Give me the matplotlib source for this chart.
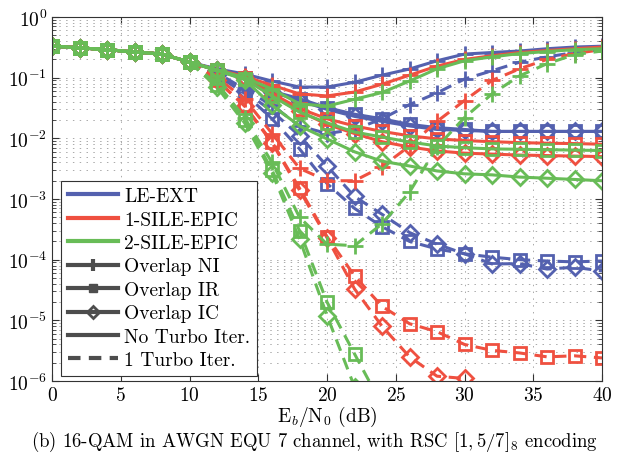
import numpy as np
import matplotlib
matplotlib.use('Agg')
import matplotlib.pyplot as plt
from matplotlib.lines import Line2D
from matplotlib.ticker import FixedLocator

plt.rcParams['font.family'] = 'serif'
plt.rcParams['font.serif'] = ['cmr10']
plt.rcParams['mathtext.fontset'] = 'cm'
plt.rcParams['axes.formatter.use_mathtext'] = True

ebn0 = np.arange(0, 41, 2)

# shared low-SNR part (0..10 dB)
head = [0.333, 0.31, 0.29, 0.265, 0.245, 0.18]
nan = np.nan

# no turbo iteration (solid)
le_ni_0 = head + [0.14, 0.115, 0.088, 0.07, 0.07, 0.084, 0.11, 0.139, 0.19, 0.245, 0.26, 0.275, 0.30, 0.32, 0.33]
le_ir_0 = head + [0.135, 0.1, 0.06, 0.045, 0.032, 0.025, 0.021, 0.017, 0.015, 0.014, 0.013, 0.013, 0.013, 0.013, 0.013]
le_ic_0 = head + [0.135, 0.1, 0.058, 0.042, 0.03, 0.023, 0.019, 0.016, 0.014, 0.0135, 0.013, 0.013, 0.013, 0.013, 0.013]
s1_ni_0 = head + [0.135, 0.105, 0.075, 0.054, 0.05, 0.058, 0.078, 0.11, 0.155, 0.2, 0.23, 0.26, 0.28, 0.3, 0.32]
s1_ir_0 = head + [0.133, 0.098, 0.055, 0.031, 0.021, 0.016, 0.013, 0.011, 0.0098, 0.0092, 0.0088, 0.0085, 0.0083, 0.0082, 0.008]
s1_ic_0 = head + [0.133, 0.097, 0.05, 0.028, 0.017, 0.012, 0.0088, 0.0072, 0.0062, 0.0057, 0.0055, 0.0053, 0.0052, 0.0051, 0.005]
s2_ni_0 = head + [0.135, 0.1, 0.065, 0.037, 0.034, 0.044, 0.057, 0.088, 0.14, 0.19, 0.22, 0.25, 0.27, 0.29, 0.30]
s2_ir_0 = head + [0.132, 0.095, 0.05, 0.027, 0.018, 0.0127, 0.0105, 0.0087, 0.0075, 0.007, 0.0067, 0.0066, 0.0065, 0.0064, 0.0063]
s2_ic_0 = head + [0.132, 0.093, 0.035, 0.016, 0.0098, 0.006, 0.0042, 0.0035, 0.0029, 0.0026, 0.0025, 0.0023, 0.0022, 0.0021, 0.002]

# one turbo iteration (dashed)
le_ni_1 = head + [0.12, 0.065, 0.035, 0.016, 0.012, 0.014, 0.021, 0.036, 0.056, 0.095, 0.13, 0.18, 0.22, 0.26, 0.29]
le_ir_1 = head + [0.11, 0.055, 0.021, 0.0067, 0.0018, 0.0007, 3.5e-4, 2.0e-4, 1.5e-4, 1.25e-4, 1.1e-4, 1.0e-4, 9.5e-5, 9.2e-5, 9.5e-5]
le_ic_1 = head + [0.11, 0.06, 0.028, 0.011, 0.0035, 0.0011, 5.6e-4, 2.8e-4, 1.8e-4, 1.25e-4, 8.5e-5, 8.6e-5, 7.0e-5, 7.5e-5, 6.5e-5]
s1_ni_1 = head + [0.1, 0.045, 0.012, 0.0032, 0.002, 0.002, 0.0034, 0.0075, 0.019, 0.042, 0.09, 0.14, 0.2, 0.25, 0.29]
s1_ir_1 = head + [0.09, 0.035, 0.0087, 0.0015, 2.4e-4, 5.4e-5, 1.7e-5, 8.8e-6, 6.5e-6, 4e-6, 3.2e-6, 2.9e-6, 2.5e-6, 2.6e-6, 2.4e-6]
s1_ic_1 = head + [0.09, 0.034, 0.0085, 0.0014, 2.3e-4, 3.3e-5, 8e-6, 2.5e-6, 1.2e-6, 1.1e-6, nan, nan, nan, nan, nan]
s2_ni_1 = head + [0.08, 0.022, 0.004, 0.0005, 1.8e-4, 1.7e-4, 3.9e-4, 0.0013, 0.0072, 0.022, 0.054, 0.107, 0.17, 0.24, 0.275]
s2_ir_1 = head + [0.075, 0.02, 0.003, 0.0003, 2e-5, 2.8e-6, 4e-7, nan, nan, nan, nan, nan, nan, nan, nan]
s2_ic_1 = head + [0.07, 0.018, 0.0027, 0.00022, 1.2e-5, 8e-7, nan, nan, nan, nan, nan, nan, nan, nan, nan]

blue = '#5461AF'
red = '#EF5040'
green = '#68BC57'
gray = '#4D4D4D'

curves = [
    (le_ni_0, blue, '+', '-'), (le_ir_0, blue, 's', '-'), (le_ic_0, blue, 'D', '-'),
    (le_ni_1, blue, '+', '--'), (le_ir_1, blue, 's', '--'), (le_ic_1, blue, 'D', '--'),
    (s1_ni_0, red, '+', '-'), (s1_ir_0, red, 's', '-'), (s1_ic_0, red, 'D', '-'),
    (s1_ni_1, red, '+', '--'), (s1_ir_1, red, 's', '--'), (s1_ic_1, red, 'D', '--'),
    (s2_ni_0, green, '+', '-'), (s2_ir_0, green, 's', '-'), (s2_ic_0, green, 'D', '-'),
    (s2_ni_1, green, '+', '--'), (s2_ir_1, green, 's', '--'), (s2_ic_1, green, 'D', '--'),
]
msize = {'+': 12, 's': 9, 'D': 8}

fig = plt.figure(figsize=(6.29, 4.56), dpi=100)
ax = fig.add_axes([0.0827, 0.1623, 0.8744, 0.7982])

for y, c, m, ls in curves:
    ax.semilogy(ebn0, y, color=c, marker=m, linestyle=ls, linewidth=2.2,
                markersize=msize[m], markeredgewidth=2, markerfacecolor='none',
                dashes=(4, 2.5) if ls == '--' else (None, None))

ax.set_xlim(0, 40)
ax.set_ylim(1e-6, 1)
ax.set_xticks(np.arange(0, 41, 5))
# keep tick locations inside the visible decades only
decades = np.arange(-6, 1)
ax.yaxis.set_major_locator(FixedLocator(10.0 ** decades))
minor = [k * 10.0 ** d for d in decades[:-1] for k in range(2, 10)]
ax.yaxis.set_minor_locator(FixedLocator(minor))
ax.grid(True, which='major', axis='x', color='#aaaaaa', linestyle=(0, (1.5, 5.5)), linewidth=0.7)
ax.grid(True, which='both', axis='y', color='#aaaaaa', linestyle=(0, (1.5, 5.5)), linewidth=0.7)
ax.tick_params(which='both', direction='in', top=True, right=True, labelsize=14, color='#333333')
ax.tick_params(which='major', length=5)
ax.tick_params(which='minor', length=3)
for s in ax.spines.values():
    s.set_color('#333333')

handles = [
    Line2D([], [], color=blue, lw=3),
    Line2D([], [], color=red, lw=3),
    Line2D([], [], color=green, lw=3),
    Line2D([], [], color=gray, lw=3, marker='|', markersize=9, markeredgewidth=3),
    Line2D([], [], color=gray, lw=3, marker='s', markersize=6),
    Line2D([], [], color=gray, lw=3, marker='D', markersize=6, markerfacecolor='none', markeredgewidth=2),
    Line2D([], [], color=gray, lw=3),
    Line2D([], [], color=gray, lw=3, linestyle='--', dashes=(3, 2)),
]
labels = ['LE-EXT', '1-SILE-EPIC', '2-SILE-EPIC', 'Overlap NI', 'Overlap IR',
          'Overlap IC', 'No Turbo Iter.', '1 Turbo Iter.']
leg = ax.legend(handles, labels, loc='lower left', bbox_to_anchor=(0.016, 0.014),
                borderaxespad=0, fontsize=14, handlelength=2.6, labelspacing=0.28,
                handletextpad=0.3, borderpad=0.35, fancybox=False, framealpha=1,
                edgecolor='#333333')
leg.get_frame().set_linewidth(0.8)

ax.set_xlabel(r'E$_b$/N$_0$ (dB)', fontsize=14, labelpad=0)
fig.text(0.5, 0.02, r'(b) 16-QAM in AWGN EQU 7 channel, with RSC $[1,5/7]_8$ encoding',
         ha='center', fontsize=13.5)

fig.savefig('out.png', dpi=100)
